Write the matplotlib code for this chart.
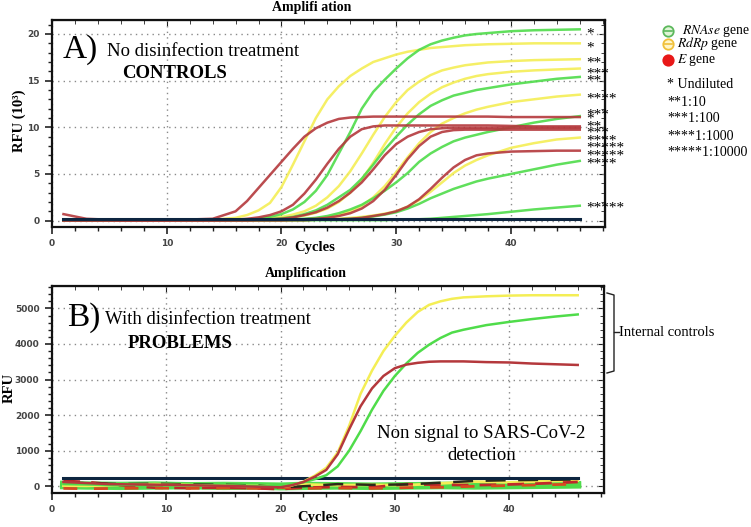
import matplotlib
matplotlib.use('Agg')
import matplotlib.pyplot as plt
from matplotlib.lines import Line2D
from matplotlib.ticker import MultipleLocator

plt.rcParams['font.family'] = 'Liberation Serif'
plt.rcParams['mathtext.fontset'] = 'stix'

# ---------------- panel A : no disinfection (RFU x 10^3) ----------------
cyc_a = [1, 3, 6, 10, 14,
         16, 17, 18, 19, 20,
         21, 22, 23, 24, 25,
         26, 27, 28, 29, 30,
         31, 32, 33, 34, 35,
         36, 37, 38,
         40, 42, 44, 46]

rdrp_a1 = [0.05, 0.05, 0.05, 0.05, 0.1,  0.3, 0.6, 1.1, 1.9, 3.6,  6.0, 8.5, 11.0, 13.0, 14.4,
           15.5, 16.3, 17.0, 17.4, 17.8,  18.1, 18.3, 18.5, 18.6, 18.7,  18.8, 18.85, 18.9,  18.95, 19.0, 19.0, 19.0]
rdrp_a2 = [0.05, 0.05, 0.05, 0.05, 0.05,  0.05, 0.1, 0.15, 0.25, 0.4,  0.65, 1.0, 1.6, 2.5, 3.7,
           5.3, 7.2, 9.2, 11.1, 12.7,  14.0, 14.9, 15.6, 16.1, 16.4,  16.65, 16.8, 16.95,  17.1, 17.2, 17.25, 17.3]
rdrp_a3 = [0.05, 0.05, 0.05, 0.05, 0.05,  0.05, 0.05, 0.1, 0.15, 0.2,  0.35, 0.55, 0.85, 1.3, 2.0,
           3.0, 4.4, 6.2, 8.2, 10.0,  11.5, 12.7, 13.6, 14.3, 14.8,  15.2, 15.5, 15.7,  15.95, 16.1, 16.2, 16.3]
rdrp_a4 = [0.05, 0.05, 0.05, 0.05, 0.05,  0.05, 0.05, 0.05, 0.05, 0.05,  0.1, 0.15, 0.25, 0.4, 0.65,
           1.0, 1.6, 2.5, 3.7, 5.2,  6.8, 8.3, 9.5, 10.4, 11.0,  11.5, 11.9, 12.2,  12.7, 13.0, 13.3, 13.5]
rdrp_a5 = [0.05, 0.05, 0.05, 0.05, 0.05,  0.05, 0.05, 0.05, 0.05, 0.05,  0.05, 0.05, 0.1, 0.15, 0.2,
           0.3, 0.4, 0.55, 0.75, 1.0,  1.5, 2.2, 3.1, 4.1, 5.1,  5.9, 6.5, 7.0,  7.8, 8.3, 8.7, 8.9]

rnase_a1 = [0.05, 0.05, 0.05, 0.05, 0.05,  0.05, 0.1, 0.2, 0.4, 0.7,  1.2, 2.0, 3.2, 4.9, 7.2,
            9.5, 12.0, 13.8, 15.1, 16.3,  17.4, 18.3, 18.9, 19.3, 19.6,  19.85, 20.0, 20.1,  20.3, 20.4, 20.45, 20.5]
rnase_a2 = [0.05, 0.05, 0.05, 0.05, 0.05,  0.05, 0.05, 0.1, 0.15, 0.25,  0.4, 0.7, 1.1, 1.7, 2.5,
            3.3, 4.5, 6.0, 7.6, 9.0,  10.3, 11.4, 12.3, 12.9, 13.4,  13.7, 14.0, 14.2,  14.6, 14.9, 15.2, 15.4]
rnase_a3 = [0.05, 0.05, 0.05, 0.05, 0.05,  0.05, 0.05, 0.05, 0.05, 0.1,  0.15, 0.2, 0.3, 0.5, 0.8,
            1.2, 1.7, 2.4, 3.2, 4.1,  5.1, 6.3, 7.2, 7.9, 8.5,  8.9, 9.2, 9.5,  10.0, 10.5, 10.9, 11.2]
rnase_a4 = [0.05, 0.05, 0.05, 0.05, 0.05,  0.05, 0.05, 0.05, 0.05, 0.05,  0.05, 0.05, 0.1, 0.1, 0.15,
            0.2, 0.3, 0.45, 0.65, 0.9,  1.3, 1.8, 2.4, 2.9, 3.4,  3.8, 4.2, 4.5,  5.0, 5.5, 6.0, 6.4]
rnase_a5 = [0.05, 0.05, 0.05, 0.05, 0.05,  0.05, 0.05, 0.05, 0.05, 0.05,  0.05, 0.05, 0.05, 0.05, 0.05,
            0.05, 0.05, 0.05, 0.05, 0.1,  0.1, 0.15, 0.2, 0.3, 0.4,  0.5, 0.6, 0.7,  0.95, 1.2, 1.4, 1.6]

egene_a1 = [0.7, 0.2, 0.05, 0.05, 0.2,  1.0, 2.1, 3.5, 4.9, 6.3,  7.7, 9.0, 9.9, 10.5, 10.9,
            11.05, 11.1, 11.15, 11.15, 11.15,  11.15, 11.15, 11.15, 11.15, 11.15,  11.15, 11.15, 11.15,  11.1, 11.1, 11.1, 11.1]
egene_a2 = [0.05, 0.05, 0.05, 0.05, 0.05,  0.1, 0.2, 0.35, 0.6, 1.0,  1.7, 2.9, 4.4, 6.1, 7.7,
            9.0, 9.8, 10.1, 10.2, 10.2,  10.2, 10.2, 10.2, 10.2, 10.2,  10.2, 10.2, 10.2,  10.15, 10.1, 10.1, 10.1]
egene_a3 = [0.05, 0.05, 0.05, 0.05, 0.05,  0.05, 0.05, 0.1, 0.15, 0.2,  0.35, 0.6, 0.9, 1.4, 2.1,
            3.0, 4.1, 5.5, 7.0, 8.2,  9.0, 9.5, 9.8, 9.9, 9.95,  9.95, 9.95, 9.95,  9.95, 9.95, 9.95, 9.95]
egene_a4 = [0.05, 0.05, 0.05, 0.05, 0.05,  0.05, 0.05, 0.05, 0.05, 0.05,  0.1, 0.15, 0.2, 0.3, 0.5,
            0.8, 1.3, 2.1, 3.3, 4.9,  6.6, 8.0, 9.0, 9.5, 9.7,  9.75, 9.75, 9.75,  9.75, 9.75, 9.75, 9.75]
egene_a5 = [0.05, 0.05, 0.05, 0.05, 0.05,  0.05, 0.05, 0.05, 0.05, 0.05,  0.05, 0.05, 0.1, 0.1, 0.15,
            0.2, 0.3, 0.5, 0.7, 1.0,  1.5, 2.3, 3.4, 4.6, 5.7,  6.5, 7.0, 7.2,  7.4, 7.45, 7.5, 7.5]

threshold_a = 0.15

star_text = ['*', '*', '**', '***', '**', '****', '***', '*', '**', '***', '****',
             '*****', '*****', '****', '*****']
star_y = [20.5, 19.0, 17.4, 16.3, 15.5, 13.6, 11.9, 11.4, 10.6, 9.9, 9.1,
          8.3, 7.5, 6.6, 1.9]

dilutions = ['* Undiluted', '**1:10', '***1:100', '****1:1000', '*****1:10000']

# ---------------- panel B : with disinfection (RFU) ----------------
cyc_b = [1, 5, 10, 15, 20, 21, 22, 23, 24, 25, 26, 27, 28, 29, 30,
         31, 32, 33, 34, 35, 36, 38, 40, 42, 44, 46]
rdrp_b = [80, 50, 40, 20, -20, 20, 130, 300, 520, 950, 1700, 2600, 3250, 3800, 4230,
          4600, 4900, 5100, 5200, 5270, 5310, 5340, 5360, 5370, 5370, 5370]
rnase_b = [60, 40, 30, 20, 0, 40, 110, 200, 310, 560, 1000, 1550, 2150, 2680, 3100,
           3450, 3750, 3980, 4170, 4320, 4400, 4530, 4620, 4700, 4770, 4830]
egene_b = [120, 60, 40, 10, -30, 30, 120, 270, 460, 900, 1600, 2250, 2750, 3100, 3320,
           3420, 3470, 3500, 3510, 3510, 3510, 3490, 3480, 3450, 3430, 3410]

# flat, non amplified wells
cyc_noise = [1, 3, 6, 9, 12, 15, 18, 20, 22, 25, 28, 31, 34, 37, 40, 43, 46]
green_flat1 = [60, 40, 30, 40, 20, 30, 20, 10, 30, 20, 10, 20, 30, 40, 30, 40, 50]
green_flat2 = [10, 0, -10, 0, 10, -10, 0, -20, -10, 0, -10, 0, 10, 0, 10, 20, 30]
red_flat1 = [150, 120, 30, -40, -50, -40, -60, -80, -40, -20, -30, 60, 40, 30, 50, 80, 120]
red_flat2 = [-60, -70, -60, -50, -60, -50, -60, -40, -60, -50, -60, -40, -30, 0, 20, 40, 60]
yellow_flat = [20, 10, 40, 60, 30, 20, 10, -10, 50, 30, 40, 30, 80, 130, 110, 140, 160]
black_flat = [80, 90, 60, 70, 50, 40, 20, -30, 0, 60, 40, 50, 100, 150, 170, 180, 190]
threshold_b = 220

GREEN = '#4fdc4a'
YELLOW = '#f4ee55'
RED = '#b4383c'

W, H = 751, 527
fig = plt.figure(figsize=(W / 100, H / 100), dpi=100)


def fx(px):
    return px / W


def fy(py):
    return 1 - py / H


def style_axes(ax, ymajor, yminor):
    ax.xaxis.set_major_locator(MultipleLocator(10))
    ax.xaxis.set_minor_locator(MultipleLocator(2))
    ax.yaxis.set_major_locator(MultipleLocator(ymajor))
    ax.yaxis.set_minor_locator(MultipleLocator(yminor))
    ax.tick_params(which='both', direction='out', colors='#222222', labelcolor='#444444',
                   labelsize=6.5, pad=4)
    ax.tick_params(which='major', length=5, width=1.2)
    ax.tick_params(which='minor', length=3, width=1.0)
    for lab in ax.get_xticklabels() + ax.get_yticklabels():
        lab.set_fontfamily('DejaVu Sans')
        lab.set_fontweight('bold')
    for s in ax.spines.values():
        s.set_linewidth(1.6)
        s.set_color('#111111')
    ax.grid(True, which='major', color='#8a8a8a', linestyle=(0, (1, 3)), linewidth=1.0)
    # inner ticks on top and right
    top = ax.secondary_xaxis('top')
    top.xaxis.set_major_locator(MultipleLocator(10))
    top.xaxis.set_minor_locator(MultipleLocator(2))
    top.tick_params(which='both', direction='in', labeltop=False, colors='#222222')
    top.tick_params(which='major', length=4)
    top.tick_params(which='minor', length=3)
    right = ax.secondary_yaxis('right')
    right.yaxis.set_major_locator(MultipleLocator(ymajor))
    right.yaxis.set_minor_locator(MultipleLocator(yminor))
    right.tick_params(which='both', direction='in', labelright=False, colors='#222222')
    right.tick_params(which='major', length=4)
    right.tick_params(which='minor', length=3)


# ---------------- panel A ----------------
ax1 = fig.add_axes([fx(52), fy(227), fx(605) - fx(52), fy(20) - fy(227)])
for ys in [rdrp_a1, rdrp_a2, rdrp_a3, rdrp_a4, rdrp_a5]:
    ax1.plot(cyc_a, ys, color=YELLOW, lw=1.8, alpha=0.9)
for ys in [rnase_a1, rnase_a2, rnase_a3, rnase_a4, rnase_a5]:
    ax1.plot(cyc_a, ys, color=GREEN, lw=1.8, alpha=0.9)
for ys in [egene_a1, egene_a2, egene_a3, egene_a4, egene_a5]:
    ax1.plot(cyc_a, ys, color=RED, lw=1.8, alpha=0.9)
ax1.plot([cyc_a[0], cyc_a[-1]], [threshold_a, threshold_a], color='#0d2540', lw=2.2)
ax1.set_xlim(0, 48.2)
ax1.set_ylim(-0.68, 21.5)
style_axes(ax1, 5, 1)

for t, yv in zip(star_text, star_y):
    ax1.text(46.6, yv - 0.55, t, fontsize=11, ha='left', va='center', clip_on=False)

fig.text(fx(312), fy(7), 'Amplifi ation', fontsize=10, fontweight='bold', ha='center', va='center')
fig.text(fx(19), fy(121), 'RFU (10³)', fontsize=10.5, fontweight='bold', rotation=90,
         ha='center', va='center')
fig.text(fx(315), fy(248), 'Cycles', fontsize=10.5, fontweight='bold', ha='center', va='center')
fig.text(fx(63), fy(50), 'A)', fontsize=24, ha='left', va='center')
fig.text(fx(107), fy(52), 'No disinfection treatment', fontsize=13.5, ha='left', va='center')
fig.text(fx(122), fy(73), 'CONTROLS', fontsize=13.5, fontweight='bold', ha='left', va='center')

# gene legend
legend_rows = [(31, '#5cb85c', '#dff5d6', r'$\it{RNAse}$ gene', 682, True),
               (44, '#f0c03a', '#fff5c8', r'$\it{RdRp}$ gene', 677, True),
               (60, '#e81818', '#e81818', r'$\it{E}$ gene', 677, False)]
for py, ec, fc, label, tx, bar in legend_rows:
    fig.add_artist(Line2D([fx(668)], [fy(py)], marker='o', markersize=7.5, mfc=fc, mec=ec,
                          mew=1.3, transform=fig.transFigure))
    if bar:
        fig.add_artist(Line2D([fx(664), fx(672)], [fy(py), fy(py)], color=ec, lw=1.2,
                              transform=fig.transFigure))
    fig.text(fx(tx), fy(py), label, fontsize=9.8, ha='left', va='center')

for i, d in enumerate(dilutions):
    fig.text(fx(667), fy(85 + 17 * i), d, fontsize=10, ha='left', va='center')

# ---------------- panel B ----------------
ax2 = fig.add_axes([fx(52), fy(493), fx(604) - fx(52), fy(286) - fy(493)])
ax2.plot(cyc_noise, green_flat1, color=GREEN, lw=5, alpha=0.95)
ax2.plot(cyc_noise, green_flat2, color=GREEN, lw=5, alpha=0.95)
ax2.plot(cyc_noise, yellow_flat, color=YELLOW, lw=2)
ax2.plot(cyc_noise, red_flat1, color='#c0282a', lw=2, dashes=(6, 4))
ax2.plot(cyc_noise, red_flat2, color='#d84a20', lw=2, dashes=(5, 6))
ax2.plot(cyc_noise, black_flat, color='#2a2a1a', lw=1.8, dashes=(8, 5))
ax2.plot([cyc_b[0], cyc_b[-1]], [threshold_b, threshold_b], color='#0d2540', lw=2.2)
ax2.plot(cyc_b, rdrp_b, color=YELLOW, lw=1.8)
ax2.plot(cyc_b, rnase_b, color=GREEN, lw=1.8)
ax2.plot(cyc_b, egene_b, color=RED, lw=1.8)
ax2.set_xlim(0, 48.3)
ax2.set_ylim(-190, 5630)
style_axes(ax2, 1000, 200)

fig.text(fx(306), fy(273), 'Amplification', fontsize=10, fontweight='bold', ha='center', va='center')
fig.text(fx(9), fy(388), 'RFU', fontsize=10.5, fontweight='bold', rotation=90,
         ha='center', va='center')
fig.text(fx(318), fy(518), 'Cycles', fontsize=10.5, fontweight='bold', ha='center', va='center')
fig.text(fx(67), fy(318), 'B)', fontsize=24, ha='left', va='center')
fig.text(fx(105), fy(320), 'With disinfection treatment', fontsize=13.5, ha='left', va='center')
fig.text(fx(128), fy(343), 'PROBLEMS', fontsize=13.5, fontweight='bold', ha='left', va='center')
fig.text(fx(481), fy(433), 'Non signal to SARS-CoV-2', fontsize=13.5, ha='center', va='center')
fig.text(fx(482), fy(455), 'detection', fontsize=13.5, ha='center', va='center')

# bracket for internal controls
fig.add_artist(Line2D([fx(607), fx(614), fx(614), fx(607)],
                      [fy(293), fy(295), fy(371), fy(373)],
                      color='#222222', lw=1.0, transform=fig.transFigure))
fig.add_artist(Line2D([fx(614), fx(619)], [fy(332), fy(332)],
                      color='#222222', lw=1.0, transform=fig.transFigure))
fig.text(fx(619), fy(332), 'Internal controls', fontsize=10.5, ha='left', va='center')

fig.savefig('out.png', dpi=100)
